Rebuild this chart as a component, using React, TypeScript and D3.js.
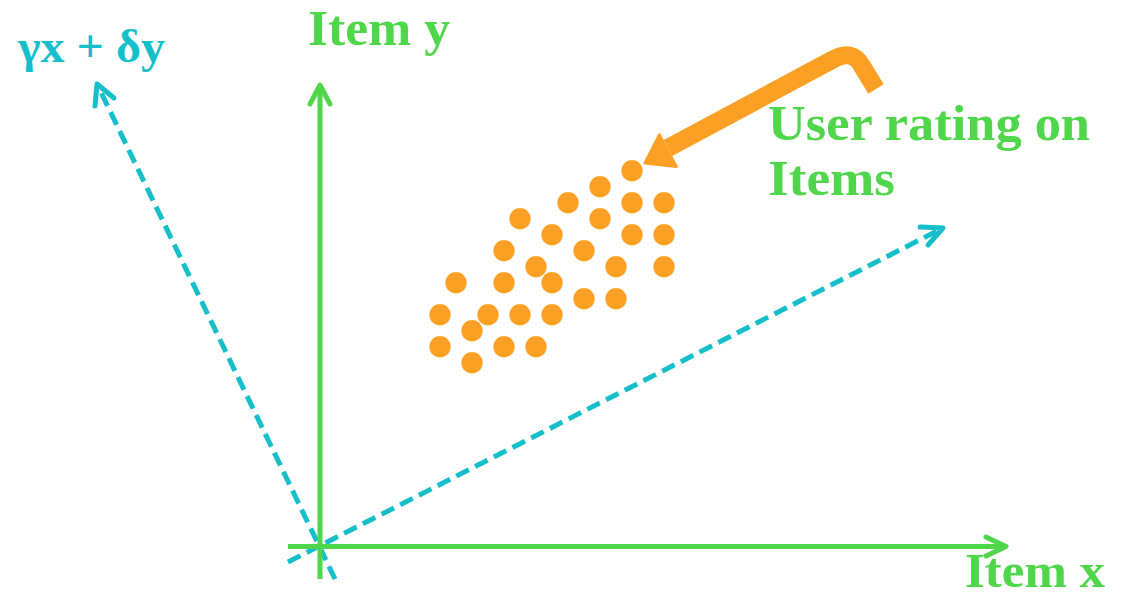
import React from "react";
import * as d3 from "d3";

// Rating points in grid units (item x index, item y index)
const pointX = [12, 10, 8, 12, 14, 5, 10, 7, 12, 14, 4, 9, 6, 11, 14, 1, 4, 7, 9, 11, 0, 3, 5, 7, 2, 0, 4, 6, 2];
const pointY = [12, 11, 10, 10, 10, 9, 9, 8, 8, 8, 7, 7, 6, 6, 6, 5, 5, 5, 4, 4, 3, 3, 3, 3, 2, 1, 1, 1, 0];

const labelItemX = "Item x";
const labelItemY = "Item y";
const labelCombo = "γx + δy";
const labelRating = ["User rating on", "Items"];

const W = 1127;
const H = 598;
const GREEN = "#4fd64a";
const TEAL = "#14bfca";
const ORANGE = "#fba024";

export default function App() {
  const x = d3.scaleLinear().domain([0, 14]).range([440, 664]);
  const y = d3.scaleLinear().domain([0, 12]).range([362.7, 170.7]);

  const origin = { x: 320, y: 546.5 };
  const chevron = (tx: number, ty: number, ax: number, ay: number, bx: number, by: number) =>
    d3.line()([[ax, ay], [tx, ty], [bx, by]]) as string;

  const arrowPath = "M 668,148 L 832,60 Q 852,48 862,66 L 876,89";
  const dir = [-0.88, 0.47];
  const tip = [645, 163];
  const base = [tip[0] - 26 * dir[0], tip[1] - 26 * dir[1]];
  const perp = [-dir[1], dir[0]];
  const head = [
    [tip[0], tip[1]],
    [base[0] + 18 * perp[0], base[1] + 18 * perp[1]],
    [base[0] - 18 * perp[0], base[1] - 18 * perp[1]],
  ];

  const font = "'Liberation Serif', 'DejaVu Serif', serif";

  return (
    <svg width={W} height={H} style={{ position: "absolute", left: 0, top: 0, background: "#fff" }}>
      {/* dashed teal axes */}
      <g stroke={TEAL} strokeWidth={5} fill="none">
        <line x1={288} y1={562} x2={940} y2={229.5} strokeDasharray="14 7" />
        <line x1={335} y1={579} x2={98} y2={86} strokeDasharray="14 7" />
        <path d={chevron(943, 228, 920, 227, 928, 245)} strokeLinecap="round" strokeLinejoin="round" />
        <path d={chevron(97, 84, 95, 106, 114, 98)} strokeLinecap="round" strokeLinejoin="round" />
      </g>
      {/* green axes */}
      <g stroke={GREEN} strokeWidth={5} fill="none">
        <line x1={origin.x} y1={579} x2={origin.x} y2={86} />
        <line x1={288} y1={origin.y} x2={1005} y2={origin.y} />
        <path d={chevron(origin.x, 85, 310, 104, 330, 104)} strokeLinecap="round" strokeLinejoin="round" />
        <path d={chevron(1006, origin.y, 986, 537, 986, 556)} strokeLinecap="round" strokeLinejoin="round" />
      </g>
      {/* dots */}
      <g fill={ORANGE}>
        {pointX.map((px, i) => (
          <circle key={i} cx={x(px)} cy={y(pointY[i])} r={10.7} />
        ))}
      </g>
      {/* orange arrow */}
      <path d={arrowPath} stroke={ORANGE} strokeWidth={18} fill="none" strokeLinejoin="round" />
      <polygon points={head.map((p) => p.join(",")).join(" ")} fill={ORANGE} stroke={ORANGE} strokeWidth={3} strokeLinejoin="round" />
      {/* labels */}
      <g fontFamily={font} fontWeight="bold" fontSize={50} fill={GREEN}>
        <text x={308} y={45} textLength={142} lengthAdjust="spacingAndGlyphs">{labelItemY}</text>
        <text x={965} y={587} fontSize={48} textLength={140} lengthAdjust="spacingAndGlyphs">{labelItemX}</text>
        <text x={768} y={140} textLength={322} lengthAdjust="spacingAndGlyphs">{labelRating[0]}</text>
        <text x={768} y={195} textLength={127} lengthAdjust="spacingAndGlyphs">{labelRating[1]}</text>
      </g>
      <text x={18} y={62} fontFamily={font} fontWeight="bold" fontSize={46} fill={TEAL} textLength={147} lengthAdjust="spacingAndGlyphs">
        {labelCombo}
      </text>
    </svg>
  );
}
